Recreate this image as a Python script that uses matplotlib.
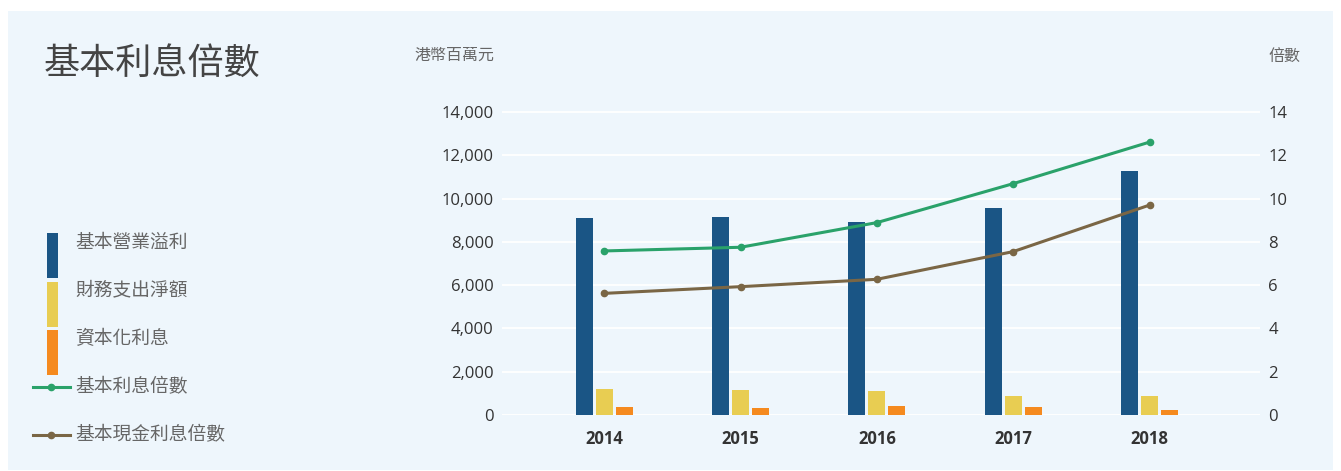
import matplotlib
matplotlib.use("Agg")
import matplotlib.pyplot as plt
from matplotlib.patches import Rectangle
from matplotlib.lines import Line2D
import numpy as np

plt.rcParams['font.family'] = ['Open Sans', 'Noto Sans CJK TC', 'DejaVu Sans']

# data
years = ['2014', '2015', '2016', '2017', '2018']
op_profit = [9100, 9150, 8900, 9560, 11270]      # 基本營業溢利
fin_cost = [1200, 1160, 1110, 880, 880]          # 財務支出淨額
cap_interest = [370, 320, 420, 370, 230]         # 資本化利息
icr = [7.58, 7.75, 8.89, 10.69, 12.61]           # 基本利息倍數
cash_icr = [5.62, 5.93, 6.27, 7.55, 9.70]        # 基本現金利息倍數

bar_labels = ['基本營業溢利', '財務支出淨額', '資本化利息']
line_labels = ['基本利息倍數', '基本現金利息倍數']
left_ticks = [0, 2000, 4000, 6000, 8000, 10000, 12000, 14000]
right_ticks = [0, 2, 4, 6, 8, 10, 12, 14]

BLUE = '#1a5585'
YELLOW = '#e8cd52'
ORANGE = '#f58a1f'
GREEN = '#2aa26a'
BROWN = '#7a6645'
BG = '#eef6fc'
TICK_C = '#333333'
TEXT_C = '#666666'

W, H = 1341, 471
fig = plt.figure(figsize=(W / 100, H / 100), dpi=100)
fig.patch.set_facecolor('white')
fig.patches.append(Rectangle((8 / W, 1 - 470 / H), (1333 - 8) / W, (470 - 11) / H,
                             transform=fig.transFigure, facecolor=BG,
                             edgecolor='none', zorder=-10))

# main axes
y_top = 14600
ax_left, ax_right = 502, 1260
ax_bottom = 415
ax_h = 303 * y_top / 14000
ax = fig.add_axes([ax_left / W, 1 - ax_bottom / H, (ax_right - ax_left) / W, ax_h / H])
ax.set_facecolor('none')
ax.set_ylim(0, y_top)
ax.set_xlim(-0.75, 4.81)

x = np.arange(len(years))
bw = 0.125
off = 0.147
ax.bar(x - off, op_profit, bw, color=BLUE, zorder=3)
ax.bar(x, fin_cost, bw, color=YELLOW, zorder=3)
ax.bar(x + off, cap_interest, bw, color=ORANGE, zorder=3)

ax.set_yticks(left_ticks)
ax.set_yticklabels([f'{v:,}' for v in left_ticks])
ax.set_xticks(x)
ax.set_xticklabels(years, fontweight='bold')
ax.tick_params(axis='both', length=0, labelsize=12, colors=TICK_C)
ax.tick_params(axis='y', pad=6)
ax.tick_params(axis='x', pad=11)
ax.grid(axis='y', color='white', lw=1.3, zorder=0)
ax.set_axisbelow(True)
for s in ax.spines.values():
    s.set_visible(False)

ax2 = ax.twinx()
ax2.set_ylim(0, y_top / 1000)
ax2.plot(x, icr, color=GREEN, lw=2.2, marker='o', ms=4.5, zorder=4)
ax2.plot(x, cash_icr, color=BROWN, lw=2.2, marker='o', ms=4.5, zorder=4)
ax2.set_yticks(right_ticks)
ax2.tick_params(axis='y', length=0, labelsize=12, colors=TICK_C, pad=6)
for s in ax2.spines.values():
    s.set_visible(False)

# overlay in pixel coordinates for title, unit labels and legend
ov = fig.add_axes([0, 0, 1, 1], zorder=5)
ov.set_xlim(0, W)
ov.set_ylim(H, 0)
ov.axis('off')

ov.text(44, 64, '基本利息倍數', fontsize=26, color='#444444', va='center', ha='left',
        family=['Noto Sans CJK TC'])
ov.text(494, 55, '港幣百萬元', fontsize=11.5, color=TEXT_C, va='center', ha='right',
        family=['Noto Sans CJK TC'])
ov.text(1268, 56, '倍數', fontsize=11.5, color=TEXT_C, va='center', ha='left',
        family=['Noto Sans CJK TC'])

bar_cols = [BLUE, YELLOW, ORANGE]
rect_tops = [233, 282, 330]
text_ys = [242, 290, 339]
for lab, c, top, ty in zip(bar_labels, bar_cols, rect_tops, text_ys):
    ov.add_patch(Rectangle((47, top), 11, 45, facecolor=c, edgecolor='none'))
    ov.text(75, ty, lab, fontsize=13.5, color=TEXT_C, va='center', ha='left',
            family=['Noto Sans CJK TC'])

for lab, c, ly in zip(line_labels, [GREEN, BROWN], [387, 435]):
    ov.add_line(Line2D([33, 70], [ly, ly], color=c, lw=2.2))
    ov.plot([51], [ly], marker='o', ms=4.5, color=c)
    ov.text(75, ly, lab, fontsize=13.5, color=TEXT_C, va='center', ha='left',
            family=['Noto Sans CJK TC'])

fig.savefig('out.png', dpi=100, facecolor='white')
